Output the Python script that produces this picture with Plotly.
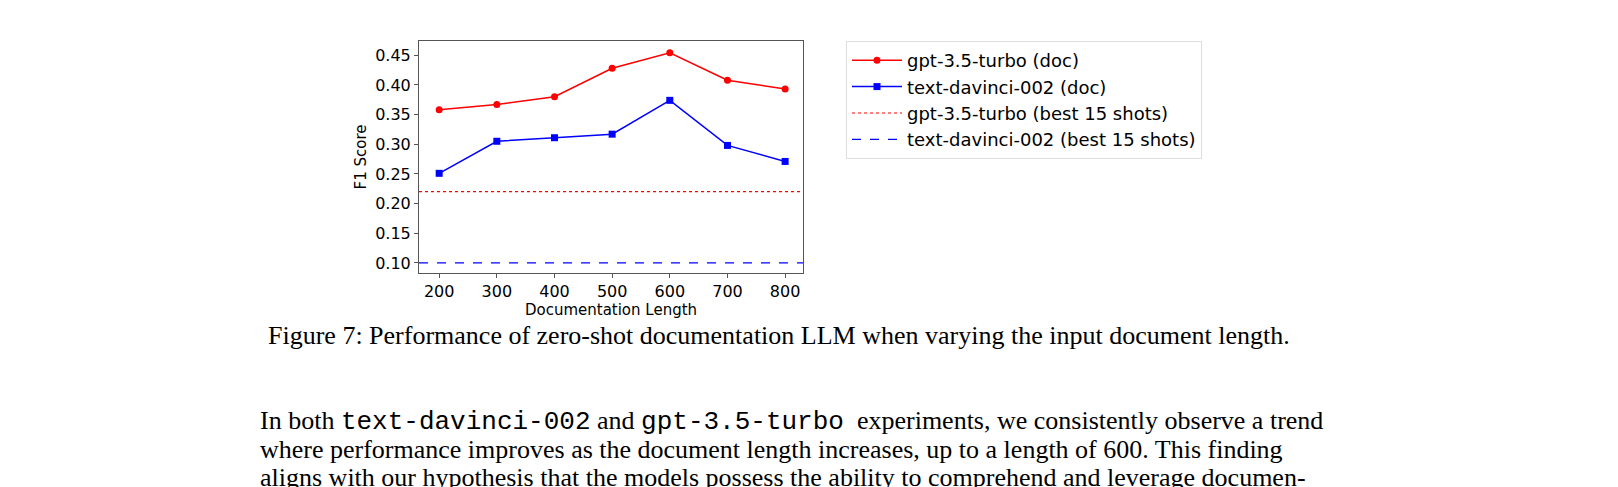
import plotly.graph_objects as go

# data
doc_lengths = [200, 300, 400, 500, 600, 700, 800]
gpt35_doc = [0.358, 0.367, 0.380, 0.428, 0.454, 0.408, 0.393]
davinci_doc = [0.251, 0.305, 0.311, 0.317, 0.374, 0.298, 0.271]
gpt35_best15 = 0.22
davinci_best15 = 0.10
x_span = [165, 831]

W, H = 1618, 487
L, R, T, B = 411, 795, 33, 265


def px(x):
    return (x - L) / (R - L)


def py(y):
    return (B - y) / (B - T)


fig = go.Figure()
fig.add_trace(go.Scatter(x=doc_lengths, y=gpt35_doc, mode='lines+markers', name='gpt-3.5-turbo (doc)',
                         line=dict(color='red', width=1.5), marker=dict(symbol='circle', size=7, color='red')))
fig.add_trace(go.Scatter(x=doc_lengths, y=davinci_doc, mode='lines+markers', name='text-davinci-002 (doc)',
                         line=dict(color='blue', width=1.5), marker=dict(symbol='square', size=7, color='blue')))
fig.add_trace(go.Scatter(x=x_span, y=[gpt35_best15] * 2, mode='lines', name='gpt-3.5-turbo (best 15 shots)',
                         line=dict(color='red', width=1.2, dash='dot')))
fig.add_trace(go.Scatter(x=x_span, y=[davinci_best15] * 2, mode='lines', name='text-davinci-002 (best 15 shots)',
                         line=dict(color='blue', width=1.2, dash='dash')))

axis_common = dict(showgrid=False, zeroline=False, showline=True, mirror=True, linecolor='#555', linewidth=1,
                   ticks='outside', ticklen=4, tickcolor='#555', tickfont=dict(family='DejaVu Sans', size=16, color='black'))
fig.update_xaxes(range=x_span, tickvals=doc_lengths, title=dict(text='Documentation Length', standoff=0,
                 font=dict(family='DejaVu Sans', size=15, color='black')), **axis_common)
fig.update_yaxes(range=[0.083, 0.474], tickvals=[0.10, 0.15, 0.20, 0.25, 0.30, 0.35, 0.40, 0.45], tickformat='.2f',
                 title=dict(text='F1 Score', standoff=4, font=dict(family='DejaVu Sans', size=15, color='black')), **axis_common)

serif = 'Liberation Serif, Times New Roman, serif'
mono = 'Liberation Mono, monospace'


def tt(s):
    return "<span style='font-family:%s'>%s</span>" % (mono, s)


annotations = [
    dict(x=px(258), y=py(327), xanchor='left',
         text='Figure 7: Performance of zero-shot documentation LLM when varying the input document length.',
         font=dict(family=serif, size=26)),
    dict(x=px(250), y=py(413), xanchor='left',
         text='In both ' + tt('text-davinci-002') + ' and ' + tt('gpt-3.5-turbo') + '  experiments, we consistently observe a trend',
         font=dict(family=serif, size=26)),
    dict(x=px(250), y=py(441), xanchor='left',
         text='where performance improves as the document length increases, up to a length of 600. This finding',
         font=dict(family=serif, size=26)),
    dict(x=px(250), y=py(469), xanchor='left',
         text='aligns with our hypothesis that the models possess the ability to comprehend and leverage documen-',
         font=dict(family=serif, size=26)),
]
for a in annotations:
    a.update(xref='paper', yref='paper', showarrow=False, yanchor='middle')
    a['font']['color'] = 'black'

fig.update_layout(
    width=W, height=H,
    margin=dict(l=L, r=W - R, t=T, b=H - B),
    plot_bgcolor='white', paper_bgcolor='white',
    annotations=annotations,
    legend=dict(x=px(838), y=py(33), xanchor='left', yanchor='top', bordercolor='#ddd', borderwidth=1,
                font=dict(family='DejaVu Sans', size=18, color='black'), tracegroupgap=4, itemwidth=50),
)

fig.write_html("out.html")
